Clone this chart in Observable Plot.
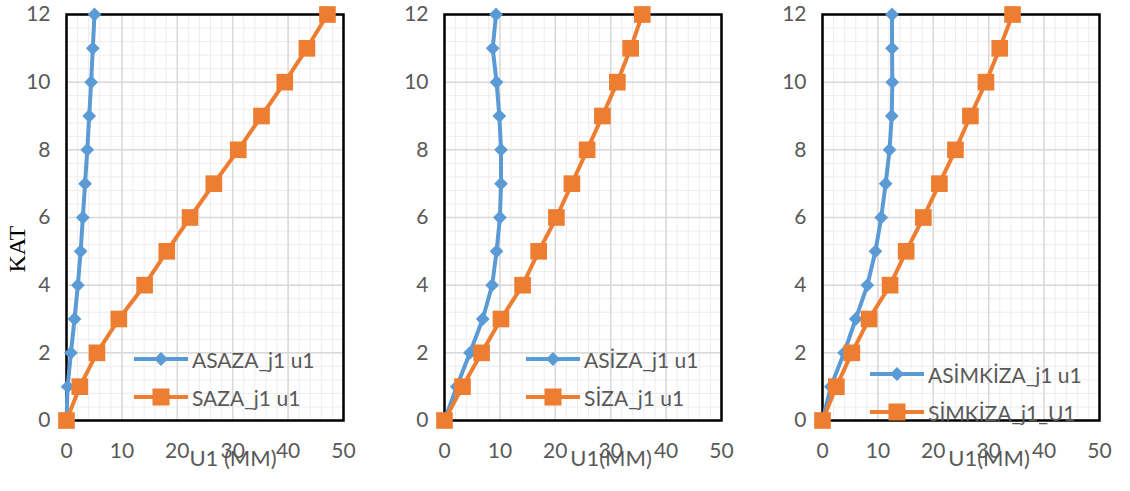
<!DOCTYPE html>
<html>
<head>
<meta charset="utf-8">
<script src="https://cdn.jsdelivr.net/npm/d3@7"></script>
<script src="https://cdn.jsdelivr.net/npm/@observablehq/plot@0.6"></script>
<style>
  html, body { margin: 0; padding: 0; background: #fff; }
  #wrap { position: relative; width: 1130px; height: 491px; display: flex; font-family: Lato, "Open Sans", sans-serif; }
  .panel { position: relative; height: 491px; }
  .row { position: absolute; display: flex; align-items: center; height: 24px; white-space: nowrap; color: #595959; font-size: 21px; }
  .row svg { display: block; margin-right: 4px; }
</style>
</head>
<body>
<div id="wrap"></div>
<script>
// ---- data ----
const floors = [0, 1, 2, 3, 4, 5, 6, 7, 8, 9, 10, 11, 12];
const asaza    = [0, 0.2, 0.8, 1.45, 2.05, 2.55, 2.95, 3.35, 3.75, 4.1, 4.45, 4.75, 5.05];
const saza     = [0, 2.4, 5.5, 9.45, 14.1, 18.1, 22.3, 26.6, 31.0, 35.2, 39.4, 43.4, 47.1];
const asiza    = [0, 2.2, 4.6, 6.9, 8.6, 9.4, 10.0, 10.2, 10.2, 9.9, 9.4, 8.7, 9.3];
const siza     = [0, 3.25, 6.7, 10.2, 14.1, 17.0, 20.2, 23.0, 25.75, 28.5, 31.2, 33.6, 35.7];
const asimkiza = [0, 1.5, 3.9, 6.0, 8.1, 9.55, 10.6, 11.4, 12.1, 12.5, 12.6, 12.55, 12.55];
const simkiza  = [0, 2.5, 5.3, 8.4, 12.2, 15.1, 18.2, 21.1, 24.0, 26.7, 29.5, 32.0, 34.3];

const seriesNamesA = ["ASAZA_j1 u1", "ASİZA_j1 u1", "ASİMKİZA_j1 u1"];
const seriesNamesS = ["SAZA_j1 u1", "SİZA_j1 u1", "SİMKİZA_j1_U1"];
const xTitles = ["U1 (MM)", "U1(MM)", "U1(MM)"];
const yTitle = "KAT";
const xTicks = [0, 10, 20, 30, 40, 50];
const yTicks = [0, 2, 4, 6, 8, 10, 12];

const blue = "#5B9BD5";
const orange = "#ED7D31";
const textGray = "#595959";

const panels = [
  {a: asaza, s: saza, width: 378, mr: 35, legendLeft: 134, legendTop: 359},
  {a: asiza, s: siza, width: 378, mr: 35, legendLeft: 148, legendTop: 359},
  {a: asimkiza, s: simkiza, width: 374, mr: 31, legendLeft: 114, legendTop: 374}
];

const wrap = document.getElementById("wrap");
const xMinor = d3.range(0, 50.001, 2);
const yMinor = d3.range(0, 12.001, 0.4).map(v => +v.toFixed(2));

panels.forEach((p, i) => {
  const A = floors.map((f, k) => ({floor: f, u: p.a[k]}));
  const S = floors.map((f, k) => ({floor: f, u: p.s[k]}));
  const marks = [
    Plot.gridX(xMinor, {stroke: "#ededed", strokeOpacity: 1, strokeWidth: 1}),
    Plot.gridY(yMinor, {stroke: "#ededed", strokeOpacity: 1, strokeWidth: 1}),
    Plot.gridX(xTicks, {stroke: "#d9d9d9", strokeOpacity: 1, strokeWidth: 1.5}),
    Plot.gridY(yTicks, {stroke: "#d9d9d9", strokeOpacity: 1, strokeWidth: 1.5}),
    Plot.frame({stroke: "#000", strokeWidth: 2.5}),
    Plot.axisX({ticks: xTicks, tickSize: 0, tickPadding: 23, color: textGray, fontSize: 21, label: null}),
    Plot.axisY({ticks: yTicks, tickSize: 0, tickPadding: 16, color: textGray, fontSize: 21, label: null}),
    Plot.text([xTitles[i]], {frameAnchor: "bottom", text: d => d, dx: 28, dy: 45, fill: textGray, fontSize: 22}),
    Plot.line(A, {x: "u", y: "floor", stroke: blue, strokeWidth: 4}),
    Plot.dot(A, {x: "u", y: "floor", symbol: "diamond2", r: 6.2, fill: blue, stroke: "none"}),
    Plot.line(S, {x: "u", y: "floor", stroke: orange, strokeWidth: 4}),
    Plot.dot(S, {x: "u", y: "floor", symbol: "square2", r: 10.6, fill: orange, stroke: "none"})
  ];
  if (i === 0) {
    marks.push(Plot.text([yTitle], {frameAnchor: "left", text: d => d, dx: -49, dy: 55, rotate: -90,
      fill: "#000", fontSize: 24, fontFamily: "Liberation Serif, Times New Roman, serif"}));
  }
  const chart = Plot.plot({
    width: p.width,
    height: 491,
    marginLeft: 66,
    marginRight: p.mr,
    marginTop: 14,
    marginBottom: 71,
    x: {domain: [0, 50]},
    y: {domain: [0, 12]},
    style: {fontFamily: "Lato, 'Open Sans', sans-serif", fontSize: "21px", background: "transparent"},
    marks
  });
  const panel = document.createElement("div");
  panel.className = "panel";
  panel.style.width = p.width + "px";
  panel.appendChild(chart);

  // legend
  const rows = [
    {name: seriesNamesA[i], color: blue, shape: "diamond"},
    {name: seriesNamesS[i], color: orange, shape: "square"}
  ];
  rows.forEach((r, k) => {
    const row = document.createElement("div");
    row.className = "row";
    row.style.left = p.legendLeft + "px";
    row.style.top = (p.legendTop + k * 38 - 12) + "px";
    const svg = d3.create("svg").attr("width", 54).attr("height", 24);
    svg.append("line").attr("x1", 0).attr("x2", 54).attr("y1", 12).attr("y2", 12)
      .attr("stroke", r.color).attr("stroke-width", 4);
    if (r.shape === "diamond") {
      svg.append("path").attr("d", "M27,5L34,12L27,19L20,12Z").attr("fill", r.color);
    } else {
      svg.append("rect").attr("x", 18.5).attr("y", 3.5).attr("width", 17).attr("height", 17).attr("fill", r.color);
    }
    row.appendChild(svg.node());
    const span = document.createElement("span");
    span.textContent = r.name;
    row.appendChild(span);
    panel.appendChild(row);
  });
  wrap.appendChild(panel);
});
</script>
</body>
</html>
